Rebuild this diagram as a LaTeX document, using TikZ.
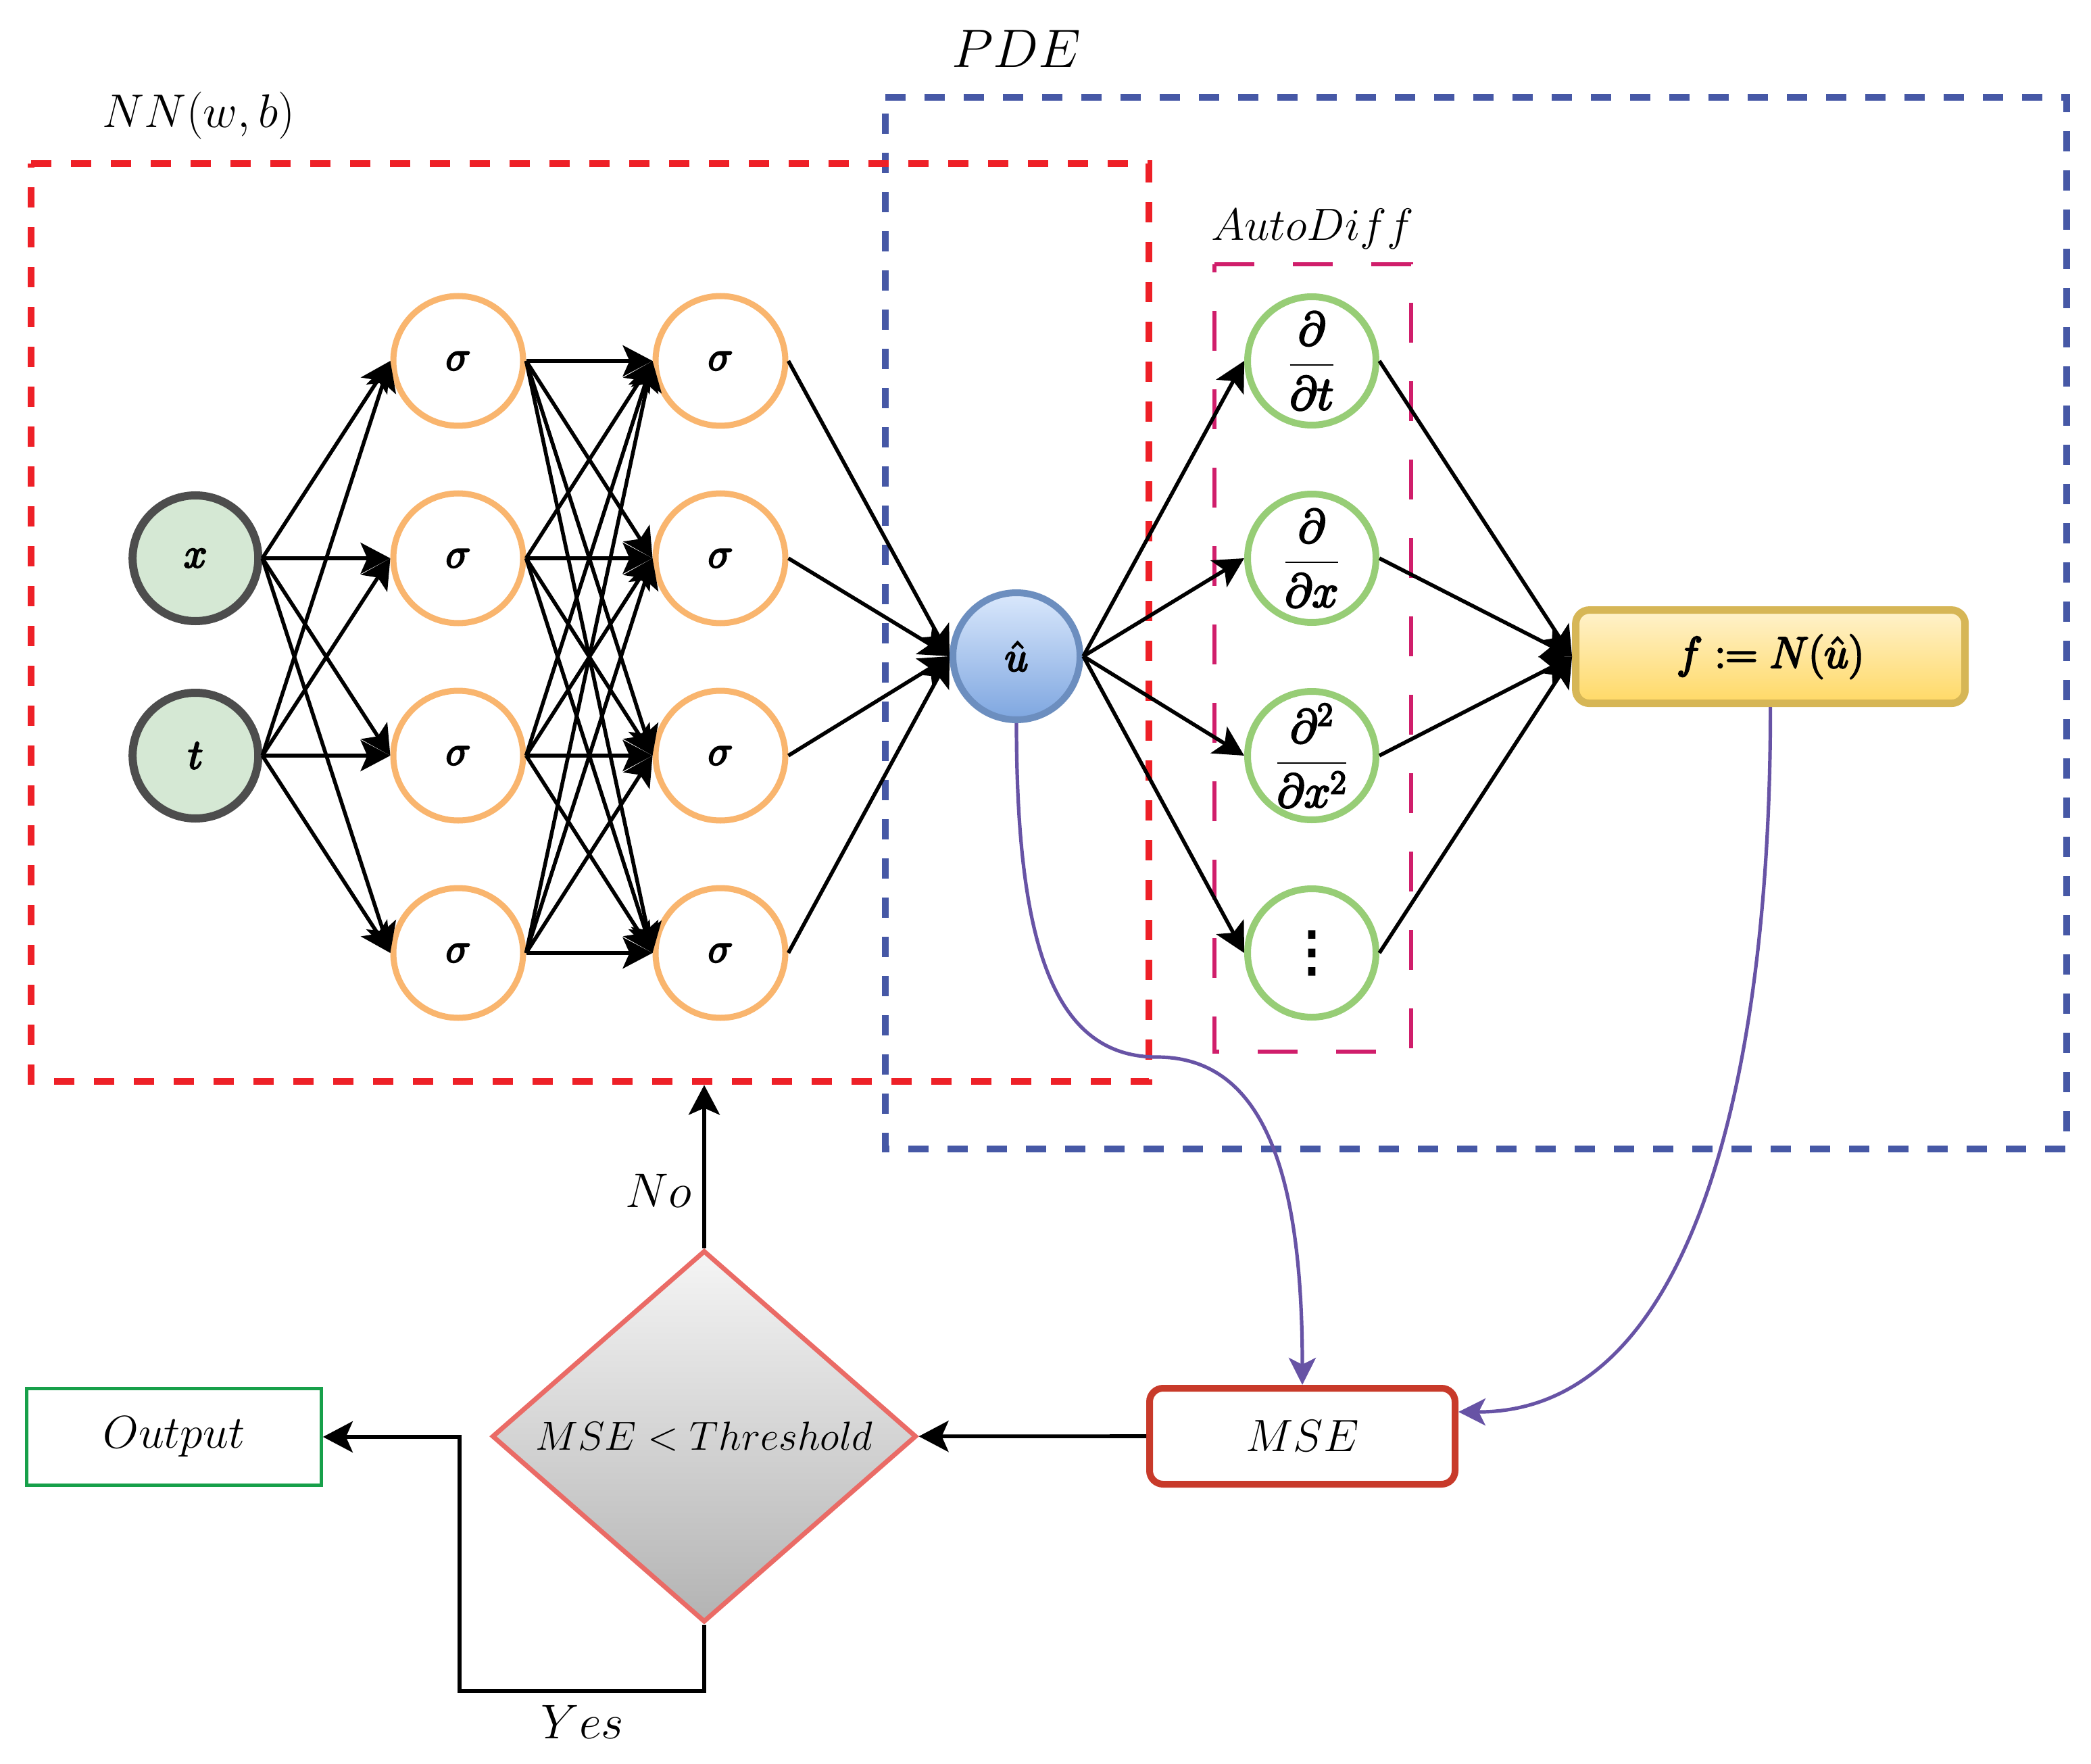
\RequirePackage{fix-cm}
\documentclass[tikz,border=0pt]{standalone}
\usepackage{amsmath}
\usepackage{fontspec}
\newfontfamily\dejavu{DejaVu Sans}
\usetikzlibrary{arrows.meta,shapes.geometric}
\definecolor{cRed}{RGB}{238,32,39}
\definecolor{cBlue}{RGB}{70,88,166}
\definecolor{cOrange}{RGB}{249,181,110}
\definecolor{cGreenRing}{RGB}{151,205,118}
\definecolor{cInFill}{HTML}{D5E8D4}
\definecolor{cInStroke}{HTML}{4D4D4D}
\definecolor{cUTop}{HTML}{DAE8FC}
\definecolor{cUBot}{HTML}{7EA6E0}
\definecolor{cUStroke}{HTML}{6C8EBF}
\definecolor{cAD}{RGB}{208,30,107}
\definecolor{cPurple}{RGB}{103,83,165}
\definecolor{cFTop}{HTML}{FFF2CC}
\definecolor{cFBot}{HTML}{FFD966}
\definecolor{cFStroke}{HTML}{D6B656}
\definecolor{cMSE}{RGB}{200,58,42}
\definecolor{cDTop}{HTML}{F5F5F5}
\definecolor{cDBot}{HTML}{B3B3B3}
\definecolor{cDStroke}{HTML}{EA6B66}
\definecolor{cOut}{RGB}{23,160,74}
\newcommand{\fsz}[1]{\fontsize{#1}{#1}\selectfont}
\newcommand{\fb}[1]{\special{pdf:literal direct 2 Tr 1.3 w 0 G}#1\special{pdf:literal direct 0 Tr}}
\begin{document}
\begin{tikzpicture}[x=1pt,y=-1pt,
  conn/.style={line width=2.8pt,-{Stealth[length=22pt,width=23pt,inset=5pt]}},
  pconn/.style={draw=cPurple,line width=2.6pt,-{Stealth[length=20pt,width=20pt,inset=5pt]}},
  neuron/.style={circle,inner sep=0pt,font=\fsz{31}},
  sig/.style={neuron,draw=cOrange,fill=white,line width=4.5pt,minimum size=96pt},
  inp/.style={neuron,draw=cInStroke,fill=cInFill,line width=6pt,minimum size=93pt},
  hatu/.style={neuron,draw=cUStroke,top color=cUTop,bottom color=cUBot,line width=5pt,minimum size=94pt},
  adn/.style={neuron,draw=cGreenRing,fill=white,line width=5pt,minimum size=95pt},
  adlbl/.style={font=\fsz{35},inner sep=0pt},
  lbl/.style={inner sep=0pt},
  frameR/.style={draw=cRed,line width=5.4pt,dash pattern=on 15pt off 14.5pt},
  frameB/.style={draw=cBlue,line width=5.4pt,dash pattern=on 15pt off 14pt},
  frameA/.style={draw=cAD,line width=3pt,dash pattern=on 29.5pt off 28.5pt},
  rbox/.style={rectangle,rounded corners=10pt,inner sep=0pt},
]
\useasboundingbox (0,0) rectangle (1547,1305);

% frames
\coordinate (bTL) at (655,72);
\coordinate (bBR) at (1529,850);
\draw[frameB] (bTL) -- (bTL -| bBR) -- (bBR) -- (bTL |- bBR) -- cycle;
\coordinate (rTL) at (23,121);
\coordinate (rBR) at (850,800);
\draw[frameR] (rTL) -- (rTL -| rBR) -- (rBR) -- (rTL |- rBR) -- cycle;
\coordinate (aTL) at (898.5,195.5);
\coordinate (aBR) at (1044,778);
\draw[frameA] (aTL) -- (aTL -| aBR) -- (aBR) -- (aTL |- aBR) -- cycle;

% frame labels
\node[lbl,font=\fsz{40}] (pdelbl) at (752,36) {$PDE$};
\node[lbl,font=\fsz{35}] (nnlbl) at (147,85.5) {$NN(w,b)$};
\node[lbl,font=\fsz{33.5}] (adlabel) at (971,169.3) {$AutoDiff$};

% input nodes
\node[inp] (in1) at (144.6,413) {\fb{$x$}};
\node[inp] (in2) at (144.6,559) {\fb{$t$}};
% hidden layers
\foreach \i/\yy in {1/267,2/413,3/559,4/705}{
  \node[sig] (h1\i) at (339,\yy) {\fb{$\sigma$}};
  \node[sig] (h2\i) at (533,\yy) {\fb{$\sigma$}};
}
\node[hatu] (uhat) at (752,485.5) {\fb{$\hat{u}$}};
% autodiff nodes
\node[adn,label={[adlbl]center:\fb{$\dfrac{\partial}{\partial t}$}}] (d1) at (970.5,267) {};
\node[adn,label={[adlbl]center:\fb{$\dfrac{\partial}{\partial x}$}}] (d2) at (970.5,413) {};
\node[adn,label={[adlbl]center:\fb{$\dfrac{\partial^2}{\partial x^2}$}}] (d3) at (970.5,559) {};
\node[adn,label={[font=\dejavu\fsz{40},inner sep=0pt]center:\fb{⋮}}] (d4) at (970.5,705) {};

\node[rbox,draw=cFStroke,line width=5.5pt,top color=cFTop,bottom color=cFBot,
      minimum width=288pt,minimum height=69pt,font=\fsz{32.5}] (fbox) at (1309.8,485.8) {\fb{$f := N(\hat{u})$}};

\node[rbox,draw=cMSE,line width=5pt,fill=white,minimum width=226pt,minimum height=71pt,
      font=\fsz{33.5}] (mse) at (963.5,1062.5) {$MSE$};
\node[diamond,draw=cDStroke,line width=3.5pt,top color=cDTop,bottom color=cDBot,
      minimum width=314pt,minimum height=275pt,inner sep=0pt,font=\fsz{30}] (dia) at (521,1062.6) {$MSE < Threshold$};
\node[rectangle,draw=cOut,line width=2.5pt,minimum width=218pt,minimum height=71.5pt,inner sep=0pt,
      font=\fsz{34}] (out) at (128.7,1063) {$Output$};

\node[lbl,font=\fsz{36}] (nolbl) at (487,881) {$No$};
\node[lbl,font=\fsz{36}] (yeslbl) at (431,1274) {$Yes$};

% edges input -> layer 1
\foreach \a in {1,2}{
  \foreach \b in {1,2,3,4}{
    \draw[conn] (in\a.east) -- (h1\b.west);
  }
}
% layer 1 -> layer 2
\foreach \a in {1,2,3,4}{
  \foreach \b in {1,2,3,4}{
    \draw[conn] (h1\a.east) -- (h2\b.west);
  }
}
% layer 2 -> uhat
\foreach \a in {1,2,3,4}{
  \draw[conn] (h2\a.east) -- (uhat.west);
}
% uhat -> autodiff -> f
\foreach \a in {1,2,3,4}{
  \draw[conn] (uhat.east) -- (d\a.west);
  \draw[conn] (d\a.east) -- (fbox.west);
}

% bottom flow
\draw[conn] (mse.west) -- (dia.east);
\coordinate (rBot) at (rTL |- rBR);
\draw[conn] (dia.north) -- ([yshift=-2.7pt]dia.north |- rBot);
\draw[conn] (dia.south) -- ([yshift=-49pt]dia.south) -| ([xshift=101pt]out.east) -- (out.east);

% purple curves
\coordinate (mid) at (856,782);
\draw[pconn] (uhat.south) .. controls (752,700) and (780,782) .. (mid)
   .. controls (940,782) and (963.5,880) .. (mse.north);
\coordinate (mseIn) at ([yshift=18pt]mse.east);
\draw[pconn] (fbox.south) .. controls (1310,790) and (1255,1045) .. (mseIn);
\end{tikzpicture}
\end{document}
